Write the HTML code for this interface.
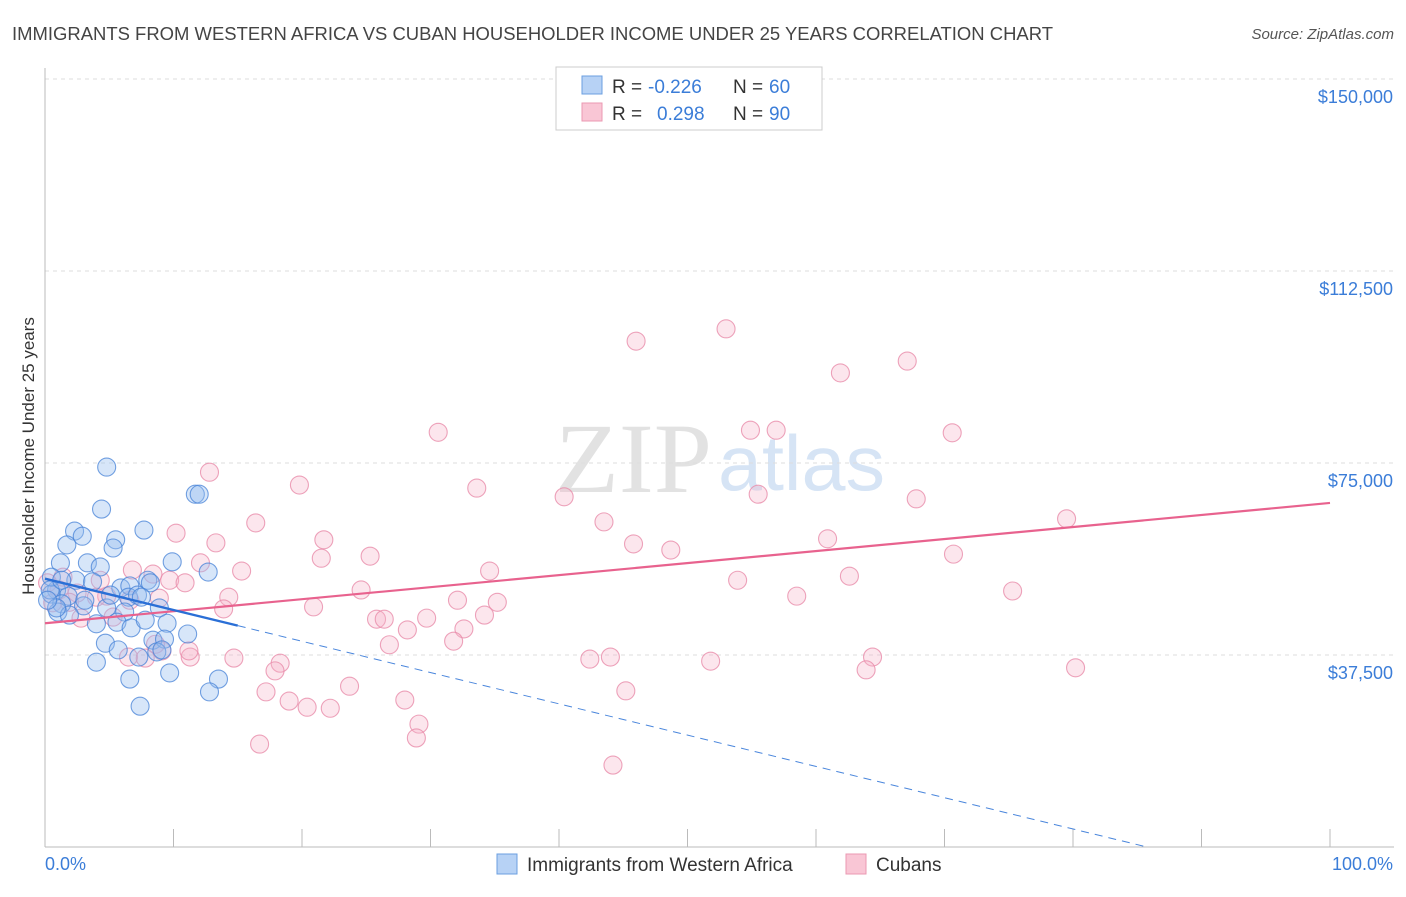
<!DOCTYPE html>
<html><head><meta charset="utf-8"><style>
body{margin:0;background:#fff;font-family:"Liberation Sans",sans-serif;}
svg text{font-family:"Liberation Sans",sans-serif;}
</style></head><body>
<svg id="chart" width="1406" height="892" xmlns="http://www.w3.org/2000/svg">
<text x="12" y="40" font-size="18" fill="#444" textLength="1041" lengthAdjust="spacingAndGlyphs">IMMIGRANTS FROM WESTERN AFRICA VS CUBAN HOUSEHOLDER INCOME UNDER 25 YEARS CORRELATION CHART</text>
<text x="1394" y="39" font-size="15" fill="#555" text-anchor="end" font-style="italic">Source: ZipAtlas.com</text>
<text x="555" y="492" font-size="100" fill="#e2e2e2" style="font-family:'Liberation Serif',serif" textLength="157" lengthAdjust="spacingAndGlyphs">ZIP</text>
<text x="718" y="490" font-size="78" fill="#d6e4f5" textLength="167" lengthAdjust="spacingAndGlyphs">atlas</text>
<g id="grid"></g>
<g id="axes"></g>
<g id="pts"></g>
<g id="lines"></g>
<text transform="translate(34,456) rotate(-90)" font-size="17" fill="#333" text-anchor="middle">Householder Income Under 25 years</text>
<text x="45" y="870" font-size="18" fill="#3b7dd8">0.0%</text>
<text x="1393" y="870" font-size="18" fill="#3b7dd8" text-anchor="end">100.0%</text>
<g>
<rect x="556" y="67" width="266" height="63" fill="#fff" stroke="#ccc"/>
<rect x="582" y="76" width="20" height="18" fill="#b7d2f5" stroke="#6b9fe0"/>
<rect x="582" y="103" width="20" height="18" fill="#f9c6d5" stroke="#eb98b2"/>
<text x="612" y="93" font-size="19" fill="#333">R =</text>
<text x="648" y="93" font-size="19" fill="#3b7dd8">-0.226</text>
<text x="733" y="93" font-size="19" fill="#333">N =</text>
<text x="769" y="93" font-size="19" fill="#3b7dd8">60</text>
<text x="612" y="120" font-size="19" fill="#333">R =</text>
<text x="657" y="120" font-size="19" fill="#3b7dd8">0.298</text>
<text x="733" y="120" font-size="19" fill="#333">N =</text>
<text x="769" y="120" font-size="19" fill="#3b7dd8">90</text>
</g>
<g>
<rect x="497" y="854" width="20" height="20" fill="#b7d2f5" stroke="#6b9fe0"/>
<text x="527" y="871" font-size="19" fill="#333">Immigrants from Western Africa</text>
<rect x="846" y="854" width="20" height="20" fill="#f9c6d5" stroke="#eb98b2"/>
<text x="876" y="871" font-size="19" fill="#333">Cubans</text>
</g>
</svg>
<script>
const yTicks=[37500,75000,112500,150000];
const yTickLabels=["$37,500","$75,000","$112,500","$150,000"];
const blueX=[4.8,4.4,11.7,12.0,2.3,7.7,1.7,2.9,5.5,5.3,3.3,9.9,1.2,4.3,12.7,2.4,3.7,5.9,8.0,8.2,6.6,0.9,0.5,1.8,6.5,7.2,7.5,8.9,1.3,3.0,4.8,6.2,1.0,1.9,4.0,5.6,9.5,6.7,8.4,9.3,11.1,4.7,5.7,8.7,9.1,4.0,7.3,0.5,9.7,6.6,13.5,12.8,7.4,0.9,0.4,0.2,1.3,3.1,5.1,7.8];
const blueY=[74.2,66.0,68.9,68.9,61.7,61.9,59.0,60.7,60.0,58.4,55.5,55.7,55.5,54.7,53.7,52.1,51.8,50.6,52.1,51.6,51.0,50.2,49.4,49.0,48.8,49.2,48.8,46.7,47.5,47.1,46.7,45.9,45.9,45.3,43.6,43.9,43.7,42.8,40.4,40.6,41.6,39.8,38.5,38.1,38.5,36.1,37.1,52.7,34.0,32.8,32.8,30.3,27.5,46.7,50.2,48.2,52.1,48.2,49.2,44.3];
const pinkX=[53.0,46.0,67.1,61.9,30.6,54.9,56.9,70.6,12.8,33.6,19.8,40.4,55.5,67.8,16.4,43.5,79.5,10.2,21.7,60.9,45.8,13.3,48.7,21.5,25.3,70.7,34.6,15.3,6.8,8.4,62.6,53.9,12.1,9.7,10.9,75.3,24.6,58.5,35.2,32.1,14.3,4.8,6.6,8.9,20.9,13.9,34.2,25.8,26.4,29.7,28.2,32.6,31.8,26.8,2.8,5.3,1.1,1.4,0.2,2.5,4.0,0.6,6.5,7.8,14.7,11.3,9.1,18.3,17.9,42.4,44.0,51.8,64.4,63.9,80.2,23.7,17.2,45.2,28.0,19.0,20.4,22.2,29.1,28.9,16.7,44.2,11.2,8.6,4.3,1.9];
const pinkY=[101.2,98.8,94.9,92.6,81.0,81.4,81.4,80.9,73.2,70.1,70.7,68.4,68.9,68.0,63.3,63.5,64.1,61.3,60.0,60.2,59.2,59.4,58.0,56.4,56.8,57.2,53.9,53.9,54.1,53.3,52.9,52.1,55.5,52.1,51.6,50.0,50.2,49.0,47.8,48.2,48.8,49.0,48.2,48.6,46.9,46.5,45.3,44.5,44.5,44.7,42.4,42.6,40.2,39.5,44.7,44.9,50.2,52.7,51.6,49.6,48.8,47.7,37.1,36.9,36.9,37.1,38.3,35.9,34.4,36.7,37.1,36.3,37.1,34.6,35.0,31.4,30.3,30.5,28.7,28.5,27.3,27.1,24.0,21.3,20.1,16.0,38.3,39.6,52.1,47.8];
const blueTrend=[52.4,-0.611];  // intercept (k$), slope per %
const pinkTrend=[43.7,0.235];
const NS="http://www.w3.org/2000/svg";
const X=v=>45+v*12.85, Y=v=>847-v/37500*192;
function mk(p,t,a){const e=document.createElementNS(NS,t);for(const k in a)e.setAttribute(k,a[k]);p.appendChild(e);return e;}
const grid=document.getElementById('grid'),axes=document.getElementById('axes'),pts=document.getElementById('pts'),lines=document.getElementById('lines');
yTicks.forEach((t,i)=>{
 const l=mk(grid,'line',{x1:45,x2:1394,y1:Y(t),y2:Y(t),stroke:'#ddd','stroke-dasharray':'4,4'});
 
 
 const tx=mk(grid,'text',{x:1393,y:Y(t)+24,'font-size':18,fill:'#3b7dd8','text-anchor':'end'});
 tx.textContent=yTickLabels[i];
 
 
});
mk(axes,'line',{x1:45,x2:45,y1:68,y2:847,stroke:'#bbb'});
mk(axes,'line',{x1:45,x2:1394,y1:847,y2:847,stroke:'#bbb'});
for(let i=0;i<=10;i++){const t=mk(axes,'line',{x1:X(i*10),x2:X(i*10),y1:829,y2:847,stroke:'#bbb'});
 
 }
function dots(xs,ys,fill,stroke,name){xs.forEach((x,i)=>{
 const c=mk(pts,'circle',{cx:X(x),cy:Y(ys[i]*1000),r:9,fill:fill,stroke:stroke,'stroke-width':1.1});
 
 });}
dots(pinkX,pinkY,'rgba(246,178,200,0.33)','rgba(232,140,170,0.8)','cubans-point');
dots(blueX,blueY,'rgba(150,190,240,0.38)','rgba(70,130,215,0.75)','western-africa-point');
const pl=mk(lines,'line',{x1:X(0),y1:Y(pinkTrend[0]*1000),x2:X(100),y2:Y((pinkTrend[0]+pinkTrend[1]*100)*1000),stroke:'#e8628e','stroke-width':2.2});


const bEnd=-blueTrend[0]/blueTrend[1];
const bl=mk(lines,'line',{x1:X(0),y1:Y(blueTrend[0]*1000),x2:X(15),y2:Y((blueTrend[0]+blueTrend[1]*15)*1000),stroke:'#2a6fd6','stroke-width':2.4});


const bd=mk(lines,'line',{x1:X(15),y1:Y((blueTrend[0]+blueTrend[1]*15)*1000),x2:X(bEnd),y2:Y(0),stroke:'#4a86dc','stroke-width':1,'stroke-dasharray':'8,6'});


</script>
</body></html>
